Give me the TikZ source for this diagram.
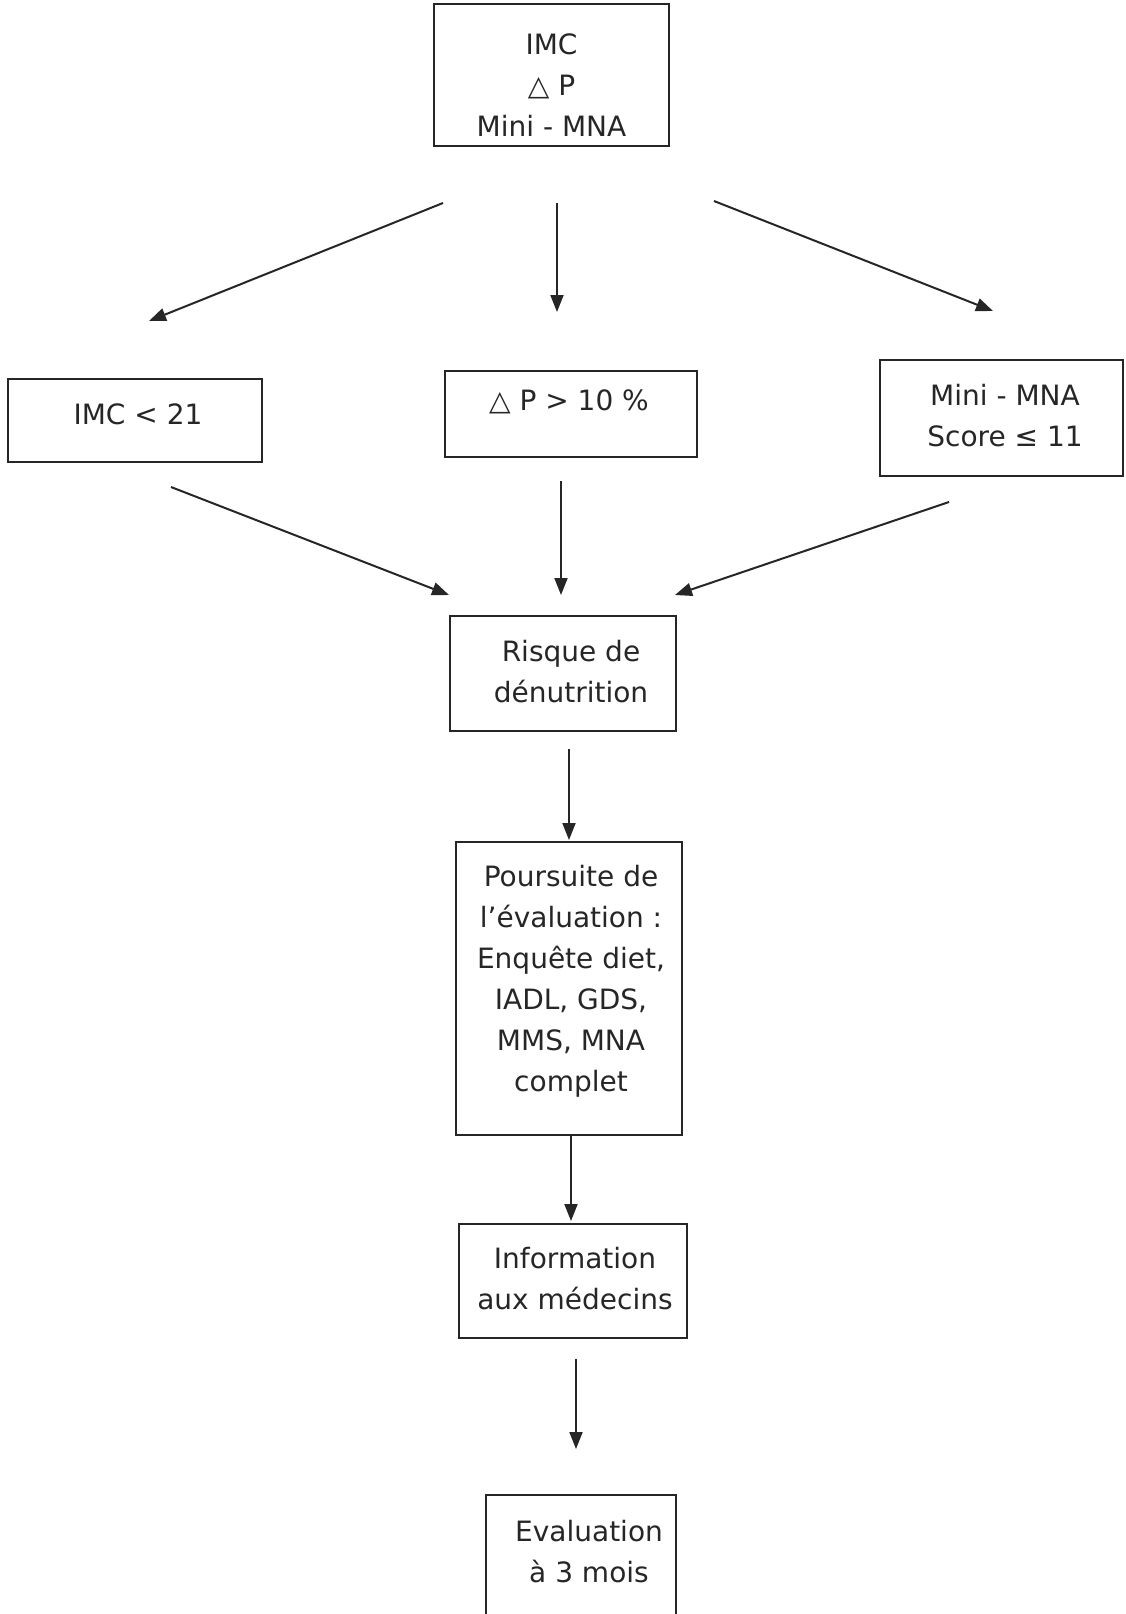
\documentclass[tikz,border=0pt]{standalone}
\usepackage{fontspec}
\setmainfont{DejaVu Sans}
\usetikzlibrary{arrows.meta}
\begin{document}
\begin{tikzpicture}[x=1pt,y=-1pt,
  box/.style={draw=black!85, line width=2.2pt, inner sep=0pt},
  txt/.style={inner sep=0pt, align=center, text=black!85, font=\fontsize{28}{41}\selectfont},
  arr/.style={draw=black!85, fill=black!85, line width=2pt, -{Triangle[length=17pt,width=13pt]}}]
\useasboundingbox (0,0) rectangle (1125,1614);
% boxes
\node[box, minimum width=235, minimum height=142] (top) at (551.5,75) {};
\node[box, minimum width=254, minimum height=83] (imc) at (135,420.5) {};
\node[box, minimum width=252, minimum height=86] (dp) at (571,414) {};
\node[box, minimum width=243, minimum height=116] (mna) at (1001.5,418) {};
\node[box, minimum width=226, minimum height=115] (risk) at (563,673.5) {};
\node[box, minimum width=226, minimum height=293] (pours) at (569,988.5) {};
\node[box, minimum width=228, minimum height=114] (info) at (573,1281) {};
\node[box, minimum width=190, minimum height=140] (eval) at (581,1565) {};
% texts
\node[txt] (topt) at (551.5,84.7) {IMC\\△ P\\Mini - MNA};
\node[txt] (imct) at (138,414.8) {IMC < 21};
\node[txt] (dpt) at (569,401.4) {△ P > 10 \%};
\node[txt] (mnat) at (1005,416) {Mini - MNA\\Score ≤ 11};
\node[txt] (riskt) at (571,671.6) {Risque de\\dénutrition};
\node[txt] (pourst) at (571,981) {Poursuite de\\l’évaluation :\\Enquête diet,\\IADL, GDS,\\MMS, MNA\\complet};
\node[txt] (infot) at (575,1279) {Information\\aux médecins};
\node[txt] (evalt) at (589,1552) {Evaluation\\à 3 mois};
% arrow end points
\coordinate (a1s) at (443,203); \coordinate (a1e) at (149,321);
\coordinate (a2s) at (557,203); \coordinate (a2e) at (557,312);
\coordinate (a3s) at (714,201); \coordinate (a3e) at (993,311);
\coordinate (a4s) at (171,487); \coordinate (a4e) at (449,595);
\coordinate (a5s) at (561,481); \coordinate (a5e) at (561,595);
\coordinate (a6s) at (949,502); \coordinate (a6e) at (675,595);
\coordinate (a7s) at (569,749); \coordinate (a7e) at (569,840);
\coordinate (a8s) at (571,1136); \coordinate (a8e) at (571,1221);
\coordinate (a9s) at (576,1359); \coordinate (a9e) at (576,1449);
\foreach \i in {1,...,9} \draw[arr] (a\i s) -- (a\i e);
\end{tikzpicture}
\end{document}
